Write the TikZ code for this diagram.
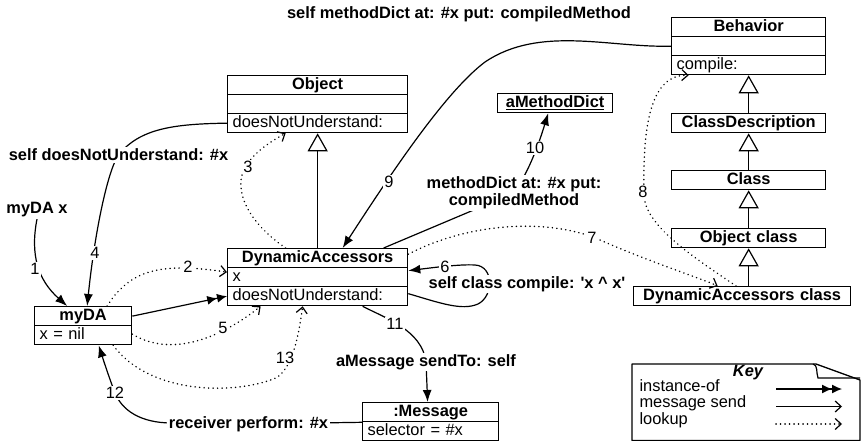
\documentclass[tikz,border=0pt]{standalone}
\usepackage{fontspec}
\setmainfont{Liberation Sans}
\usetikzlibrary{arrows.meta}
\begin{document}
\begin{tikzpicture}[x=1pt,y=-1pt,
  every node/.style={font=\fontsize{16.4}{17}\selectfont},
  crow/.style={draw, line width=1.3pt, anchor=north west, inner xsep=5pt, inner ysep=0pt, minimum height=19pt, text height=11.8pt, text depth=3.4pt, align=left, text width=#1},
  ctitle/.style={crow=#1, align=center, font=\fontsize{16.4}{17}\selectfont\bfseries},
  msg/.style={line width=1.2pt, -{Latex[length=12pt,width=9pt]}},
  msgopen/.style={line width=1.2pt, -{Straight Barb[length=6pt,width=11pt]}},
  look/.style={line width=1.6pt, line cap=round, dash pattern=on 0.1pt off 4.4pt, -{Straight Barb[length=6pt,width=11pt,line width=1.2pt]}},
  inst/.style={line width=1.2pt, -{Latex[length=10pt,width=9pt]Latex[length=10pt,width=9pt]}},
  inh/.style={line width=1.2pt, -{Triangle[length=18pt,width=20pt,fill=white,line width=1.2pt]}},
  lbl/.style={fill=white, inner sep=1.5pt, font=\fontsize{16.4}{17}\selectfont\bfseries},
  numl/.style={fill=white, inner sep=1pt}
]
\useasboundingbox (0,0) rectangle (861,441);

% ---------- class / object boxes ----------
\node[ctitle=170pt] (objT) at (227,75) {Object};
\node[crow=170pt] (objA) at (227,94) {};
\node[crow=170pt] (objM) at (227,113) {doesNotUnderstand:};

\node[ctitle=170pt] (daT) at (227,248) {DynamicAccessors};
\node[crow=170pt] (daX) at (227,267) {x};
\node[crow=170pt] (daM) at (227,286) {doesNotUnderstand:};

\node[ctitle=87pt] (myT) at (34,306) {\underline{myDA}};
\node[crow=87pt] (myX) at (34,325) {x = nil};

\node[ctitle=126pt] (msT) at (362,402) {\underline{:Message}};
\node[crow=126pt] (msS) at (362,421) {selector = \#x};

\node[ctitle=105pt] (md) at (497,93) {\underline{aMethodDict}};

\node[ctitle=144pt] (behT) at (671,17) {Behavior};
\node[crow=144pt] (behA) at (671,36) {};
\node[crow=144pt] (behM) at (671,55) {compile:};
\node[ctitle=144pt] (cd) at (671,113) {ClassDescription};
\node[ctitle=144pt] (cls) at (671,170) {Class};
\node[ctitle=144pt] (oc) at (671,228) {Object class};
\node[ctitle=207pt] (dac) at (633,286) {DynamicAccessors class};

% ---------- text labels (positions) ----------
\node[lbl] (lmyx) at (37,210) {myDA x};
\node[lbl] (ldnu) at (118.5,155) {self doesNotUnderstand: \#x};
\node[lbl] (ltop) at (459,14) {self methodDict at: \#x put: compiledMethod};
\node[lbl] (lperf) at (248.5,424) {receiver perform: \#x};
\node[lbl, align=center] (lmd) at (514,193) {methodDict at: \#x put:\\compiledMethod};
\node[lbl] (lcomp) at (527,284) {self class compile: \textquotesingle x \textasciicircum\ x\textquotesingle};
\node[lbl] (lsend) at (426,362) {aMessage sendTo: self};

% ---------- inheritance ----------
\draw[inh] (daT.north) -- (objM.south);
\draw[inh] (oc.south |- dac.north) -- (oc.south);
\draw[inh] (oc.north) -- (cls.south);
\draw[inh] (cls.north) -- (cd.south);
\draw[inh] (cd.north) -- (behM.south);

% ---------- instance-of ----------
\draw[inst] (myT.east) -- (daM.west);

% ---------- message sends ----------
\draw[msg] (lmyx.south) .. controls (30,255) and (38,280) .. ([xshift=-16pt]myT.north);
\draw[msg] (objM.west) .. controls (175,124) and (140,128) .. (ldnu.center) .. controls (108,170) and (95,230) .. ([xshift=4pt]myT.north);
\draw[msg] (msT.south west) -- (lperf.center) -- (172,423) .. controls (140,423) and (122,410) .. (115,393) .. controls (110,380) and (104,362) .. ([xshift=15.5pt]myX.south);
\draw[msg] (behA.west) .. controls (610,48) and (540,25) .. (485,62) .. controls (445,92) and (390,175) .. ([xshift=25pt]daT.north);
\draw[msg] ([xshift=66pt]daT.north) -- (lmd.center) .. controls (530,170) and (540,140) .. ([xshift=-7pt]md.south);
\draw[msg] ([xshift=45pt]daM.south) .. controls (385,318) and (422,330) .. (lsend.center) -- ([xshift=-3pt]msT.north);
\draw[msg] ([yshift=2.5pt]daM.east) .. controls (440,303) and (462,311) .. (478,304) .. controls (494,296) and (494,266) .. (475,265) .. controls (460,264) and (430,268) .. ([yshift=6.5pt]daX.east);

% ---------- lookups ----------
\draw[look] ([xshift=24pt]myT.north) .. controls (130,270) and (160,262) .. ([yshift=5pt]daX.west);
\draw[look] ([yshift=1pt]myX.east) .. controls (170,357) and (218,340) .. ([xshift=-57pt]daM.south);
\draw[look] ([xshift=30pt]myX.south) .. controls (150,395) and (235,395) .. (276,378) .. controls (292,368) and (298,340) .. ([xshift=-15pt]daM.south);
\draw[look] ([xshift=-32pt]daT.north) .. controls (245,220) and (236,190) .. (243,172) .. controls (250,155) and (268,143) .. ([xshift=-32pt]objM.south);
\draw[look] ([yshift=4pt]daT.east) .. controls (470,222) and (550,218) .. (600,240) .. controls (650,262) and (700,278) .. ([xshift=-24.5pt]dac.north);
\draw[look] ([xshift=-6pt]dac.north) .. controls (690,255) and (645,225) .. (644,195) .. controls (643,140) and (646,74) .. ([xshift=-60pt]behM.south);

% ---------- labels drawn over lines ----------
\node[lbl] at (lmyx) {myDA x};
\node[lbl] at (ldnu) {self doesNotUnderstand: \#x};
\node[lbl] at (lperf) {receiver perform: \#x};
\node[lbl, align=center] at (lmd) {methodDict at: \#x put:\\compiledMethod};
\node[lbl] at (lcomp) {self class compile: \textquotesingle x \textasciicircum\ x\textquotesingle};
\node[lbl] at (lsend) {aMessage sendTo: self};

\node[numl] (n1) at (35,269) {1};
\node[numl] (n2) at (188,267) {2};
\node[numl] (n3) at (248,167) {3};
\node[numl] (n4) at (95,253) {4};
\node[numl] (n5) at (223,328) {5};
\node[numl] (n6) at (445,267) {6};
\node[numl] (n7) at (592,238) {7};
\node[numl] (n8) at (643,192) {8};
\node[numl] (n9) at (389,182) {9};
\node[numl] (n10) at (535,148) {10};
\node[numl] (n11) at (395,324) {11};
\node[numl] (n12) at (115,393) {12};
\node[numl] (n13) at (285,358) {13};

% ---------- key ----------
\draw[line width=1.3pt, line join=round] (632,364) -- (816,364) -- (860,380) -- (860,440.5) -- (632,440.5) -- cycle;
\draw[line width=1.2pt] (813,364) .. controls (818,365) and (816,372) .. (818,378) -- (860,378);
\node[font=\fontsize{16.4}{17}\selectfont\bfseries\itshape] (keyt) at (748,373) {Key};
\node[anchor=west] (k1) at (636,386) {instance-of};
\node[anchor=west] (k2) at (636,403) {message send};
\node[anchor=west] (k3) at (636,420) {lookup};
\coordinate (k1a) at (776,389); \coordinate (k1b) at (842,389);
\coordinate (k2a) at (776,406.5); \coordinate (k2b) at (842,406.5);
\coordinate (k3a) at (776,424); \coordinate (k3b) at (842,424);
\draw[inst] (k1a) -- (k1b);
\draw[msgopen] (k2a) -- (k2b);
\draw[look] (k3a) -- (k3b);
\end{tikzpicture}
\end{document}
